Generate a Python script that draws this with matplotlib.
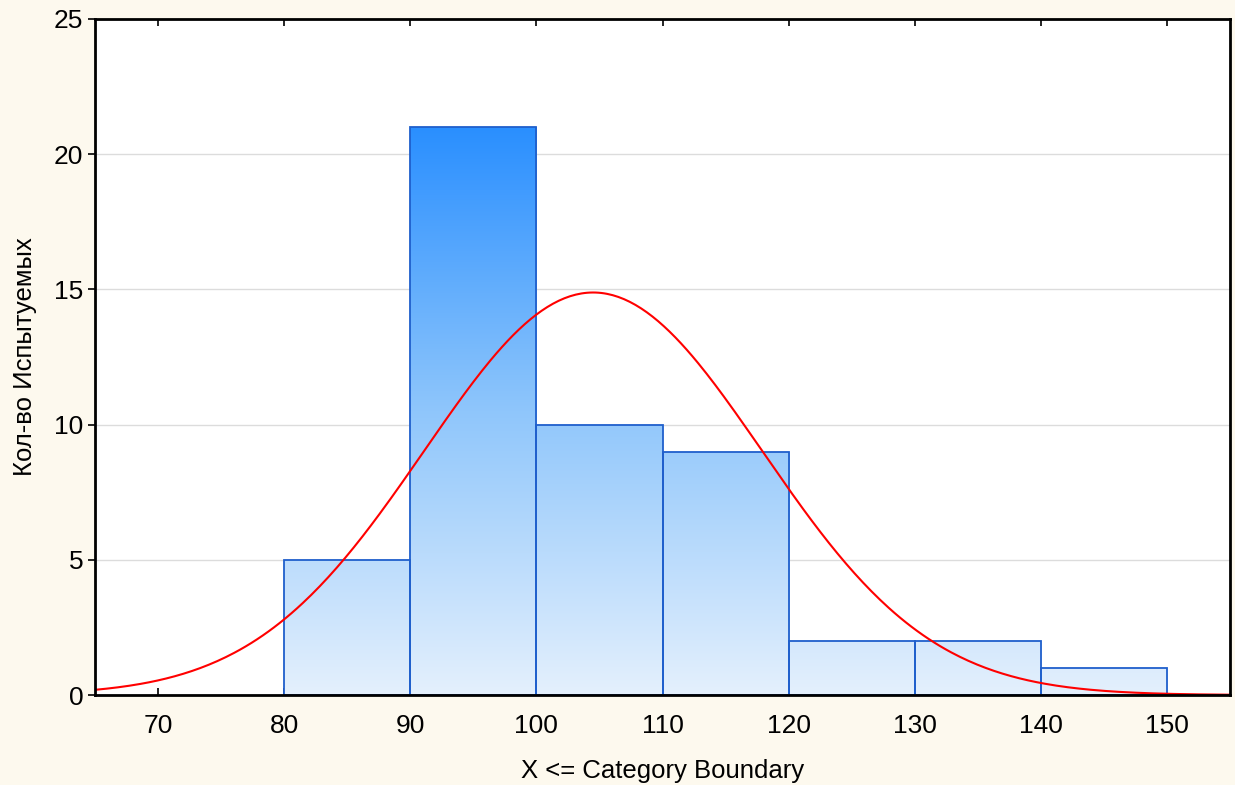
import numpy as np
import matplotlib.pyplot as plt
from matplotlib.colors import LinearSegmentedColormap

plt.rcParams['font.family'] = ['Liberation Sans', 'DejaVu Sans']

# histogram data: category boundaries and counts
bin_left = [80, 90, 100, 110, 120, 130, 140]
bin_width = 10
counts = [5, 21, 10, 9, 2, 2, 1]

# fitted normal curve parameters
mean = 104.5
std = 13.4
n_total = sum(counts)

fig = plt.figure(figsize=(12.35, 7.85), dpi=100, facecolor='#FDF9EE')
ax = fig.add_axes([0.0769, 0.1146, 0.9191, 0.8612])
ax.set_facecolor('white')

# vertical gradient, clipped to each bar
cmap = LinearSegmentedColormap.from_list('bars', ['#E4F0FD', '#8FC6FB', '#2A8FFF'])
grad = np.linspace(0, 1, 256).reshape(-1, 1)
for x0, c in zip(bin_left, counts):
    rect = plt.Rectangle((x0, 0), bin_width, c, facecolor='none',
                         edgecolor='#1F5FCC', linewidth=1.3, zorder=3)
    ax.add_patch(rect)
    im = ax.imshow(grad, extent=[65, 155, 0, 21], origin='lower', cmap=cmap,
                   aspect='auto', zorder=2)
    im.set_clip_path(rect)

xs = np.linspace(65, 155, 400)
ys = n_total * bin_width / (std * np.sqrt(2 * np.pi)) * np.exp(-(xs - mean) ** 2 / (2 * std ** 2))
ax.plot(xs, ys, color='#FF0000', linewidth=1.5, zorder=4)

ax.set_xticks(np.arange(70, 151, 10))
ax.set_yticks([0, 5, 10, 15, 20, 25])
ax.set_xlim(65, 155)
ax.set_ylim(0, 25)

for y in [5, 10, 15, 20]:
    ax.axhline(y, color='#DCDCDC', linewidth=1, zorder=1)

ax.tick_params(axis='x', direction='in', top=True, length=5, width=1.2,
               labelsize=19, pad=14)
ax.tick_params(axis='y', direction='out', length=5, width=1.2, labelsize=19)
for s in ax.spines.values():
    s.set_linewidth(2)
    s.set_color('black')
    s.set_zorder(5)

ax.set_xlabel('X <= Category Boundary', fontsize=18.5, labelpad=15)
ax.set_ylabel('Кол-во Испытуемых', fontsize=18.5, labelpad=12)

fig.savefig('out.png', dpi=100, facecolor=fig.get_facecolor())
